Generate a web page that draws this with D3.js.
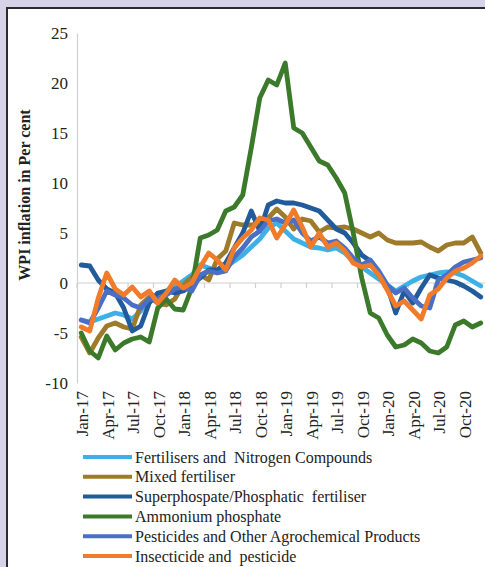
<!DOCTYPE html>
<html><head><meta charset="utf-8">
<script src="https://cdn.jsdelivr.net/npm/d3@7/dist/d3.min.js"></script>
<style>
html,body{margin:0;padding:0;background:#d6d3e9;}
svg{display:block;}
</style></head>
<body>
<svg id="c" width="485" height="567"></svg>
<script>
const months = [];
const mn = ["Jan","Feb","Mar","Apr","May","Jun","Jul","Aug","Sep","Oct","Nov","Dec"];
for (const yr of ["17","18","19","20"]) for (const m of mn) months.push(m + "-" + yr);
const tickLabels = months.filter((d, i) => i % 3 === 0);
const yTicks = [-10, -5, 0, 5, 10, 15, 20, 25];

const seriesNames = [
  "Fertilisers and  Nitrogen Compounds",
  "Mixed fertiliser",
  "Superphospate/Phosphatic  fertiliser",
  "Ammonium phosphate",
  "Pesticides and Other Agrochemical Products",
  "Insecticide and  pesticide"
];
const seriesColors = ["#3db1e5", "#9e7a2b", "#215b9b", "#3b7a2b", "#4a6fc4", "#f07b2a"];

const fertNitrogen = [-3.7,-3.9,-3.6,-3.3,-3.0,-3.2,-3.6,-2.8,-1.6,-1.2,-0.8,-0.4,
  0.2,0.8,1.8,1.5,1.2,1.6,2.2,2.8,3.6,4.4,5.5,6.0,
  5.2,4.4,4.0,3.6,3.5,3.3,3.5,3.0,2.2,1.6,1.0,0.4,
  -0.2,-0.8,-0.3,0.2,0.6,0.8,1.0,1.1,1.0,0.7,0.2,-0.3];
const mixedFert = [-5.4,-7.0,-5.5,-4.3,-4.0,-4.4,-4.6,-2.2,-1.4,-2.0,-2.2,-1.6,
  -0.2,0.6,0.8,0.3,2.4,3.2,6.0,5.8,5.8,6.0,6.5,7.4,
  6.6,5.4,6.4,6.2,5.1,5.6,5.5,5.6,5.4,5.0,4.6,5.0,
  4.3,4.0,4.0,4.0,4.1,3.6,3.2,3.8,4.0,4.0,4.6,3.0];
const superPhos = [1.8,1.7,0.3,-0.6,-1.0,-2.5,-4.8,-4.3,-2.0,-1.0,-0.8,-1.0,
  -0.8,-0.2,0.5,1.3,1.3,2.0,3.5,5.0,7.2,5.2,7.8,8.2,
  8.0,8.0,7.8,7.5,7.2,6.3,5.4,5.0,4.0,2.8,2.2,0.8,
  -0.3,-3.0,-0.8,-2.0,-0.5,0.8,0.5,0.3,0.1,-0.3,-0.8,-1.4];
const ammoniumPhos = [-5.0,-6.8,-7.5,-5.3,-6.7,-6.0,-5.6,-5.4,-5.9,-2.5,-1.6,-2.6,
  -2.7,-0.5,4.5,4.8,5.3,7.2,7.6,8.8,13.5,18.5,20.3,19.8,
  22.0,15.5,15.0,13.6,12.2,11.8,10.5,9.0,5.0,0.5,-3.0,-3.5,
  -5.2,-6.4,-6.2,-5.6,-6.0,-6.8,-7.0,-6.4,-4.2,-3.8,-4.4,-4.0];
const pesticides = [-3.7,-4.0,-2.5,-0.8,-1.2,-1.5,-2.2,-2.5,-1.6,-1.6,-1.2,-0.6,
  -0.4,-0.8,0.8,1.2,1.0,1.2,2.6,3.5,4.6,5.2,6.2,6.4,
  6.0,6.3,5.0,4.2,4.6,4.0,4.2,3.5,2.5,1.8,2.3,1.2,
  -0.2,-1.0,-0.5,-1.5,-2.3,-2.5,0.3,0.8,1.6,2.1,2.3,2.5];
const insecticide = [-4.4,-4.8,-1.5,1.0,-0.6,-1.2,-0.4,-1.4,-0.8,-2.0,-1.0,0.3,
  -0.5,0.0,1.6,3.0,2.3,1.3,3.5,4.5,5.3,6.5,6.3,4.5,
  5.8,7.3,5.6,3.6,5.0,3.6,4.0,3.2,2.0,1.6,1.8,0.8,
  -0.7,-2.3,-1.8,-2.7,-3.6,-1.2,-0.6,0.5,1.2,1.5,2.0,2.7];
const seriesValues = [fertNitrogen, mixedFert, superPhos, ammoniumPhos, pesticides, insecticide];

const svg = d3.select("#c");
// panel
svg.append("rect").attr("x", 0).attr("y", 0).attr("width", 485).attr("height", 567).attr("fill", "#d6d3e9");
svg.append("rect").attr("x", 7).attr("y", 8).attr("width", 490).attr("height", 570)
  .attr("fill", "#ffffff").attr("stroke", "#2b2b2b").attr("stroke-width", 2);

const x = d3.scaleBand().domain(months).range([77, 485]).padding(0);
const xc = d => x(d) + x.bandwidth() / 2;
const y = d3.scaleLinear().domain([-10, 25]).range([383, 33]);

// y axis
const yAxis = svg.append("g").attr("transform", "translate(77,0)")
  .call(d3.axisLeft(y).tickValues(yTicks).tickFormat(d => String(d)).tickSize(0).tickPadding(9));
yAxis.select(".domain").attr("stroke", "#d0d0d0").attr("stroke-width", 1.2);
yAxis.selectAll("text").attr("font-family", "Liberation Serif").attr("font-size", 17).attr("fill", "#222");

// zero axis with ticks at boundaries every 3 months
svg.append("line").attr("x1", 77).attr("x2", 485).attr("y1", y(0)).attr("y2", y(0))
  .attr("stroke", "#d0d0d0").attr("stroke-width", 1.2);
svg.append("g").selectAll("line").data(tickLabels).join("line")
  .attr("x1", d => x(d)).attr("x2", d => x(d))
  .attr("y1", y(0)).attr("y2", y(0) + 5)
  .attr("stroke", "#d0d0d0").attr("stroke-width", 1.2);

// x labels
svg.append("g").selectAll("text").data(tickLabels).join("text")
  .attr("transform", d => `translate(${xc(d) + 1},391) rotate(-90)`)
  .attr("text-anchor", "end").attr("dy", "0.35em")
  .attr("font-family", "Liberation Serif").attr("font-size", 17).attr("fill", "#222")
  .text(d => d);

// y title
svg.append("text").attr("transform", "translate(24,195) rotate(-90)")
  .attr("text-anchor", "middle").attr("dy", "0.35em")
  .attr("font-family", "Liberation Serif").attr("font-weight", "bold").attr("font-size", 16)
  .attr("fill", "#222").text("WPI inflation in Per cent");

// lines
const line = d3.line().x((d, i) => xc(months[i])).y(d => y(d));
svg.append("g").selectAll("path").data(seriesValues).join("path")
  .attr("d", d => line(d)).attr("fill", "none")
  .attr("stroke", (d, i) => seriesColors[i]).attr("stroke-width", 4.8)
  .attr("stroke-linejoin", "round").attr("stroke-linecap", "round");

// legend
const lg = svg.append("g").selectAll("g").data(seriesNames).join("g")
  .attr("transform", (d, i) => `translate(83,${457 + i * 19.8})`);
lg.append("line").attr("x1", 0).attr("x2", 49).attr("y1", 0).attr("y2", 0)
  .attr("stroke", (d, i) => seriesColors[i]).attr("stroke-width", 4);
lg.append("text").attr("x", 52).attr("dy", "0.35em")
  .attr("font-family", "Liberation Serif").attr("font-size", 16).attr("fill", "#222")
  .attr("xml:space", "preserve").style("white-space", "pre")
  .text(d => d);
</script>
</body></html>
